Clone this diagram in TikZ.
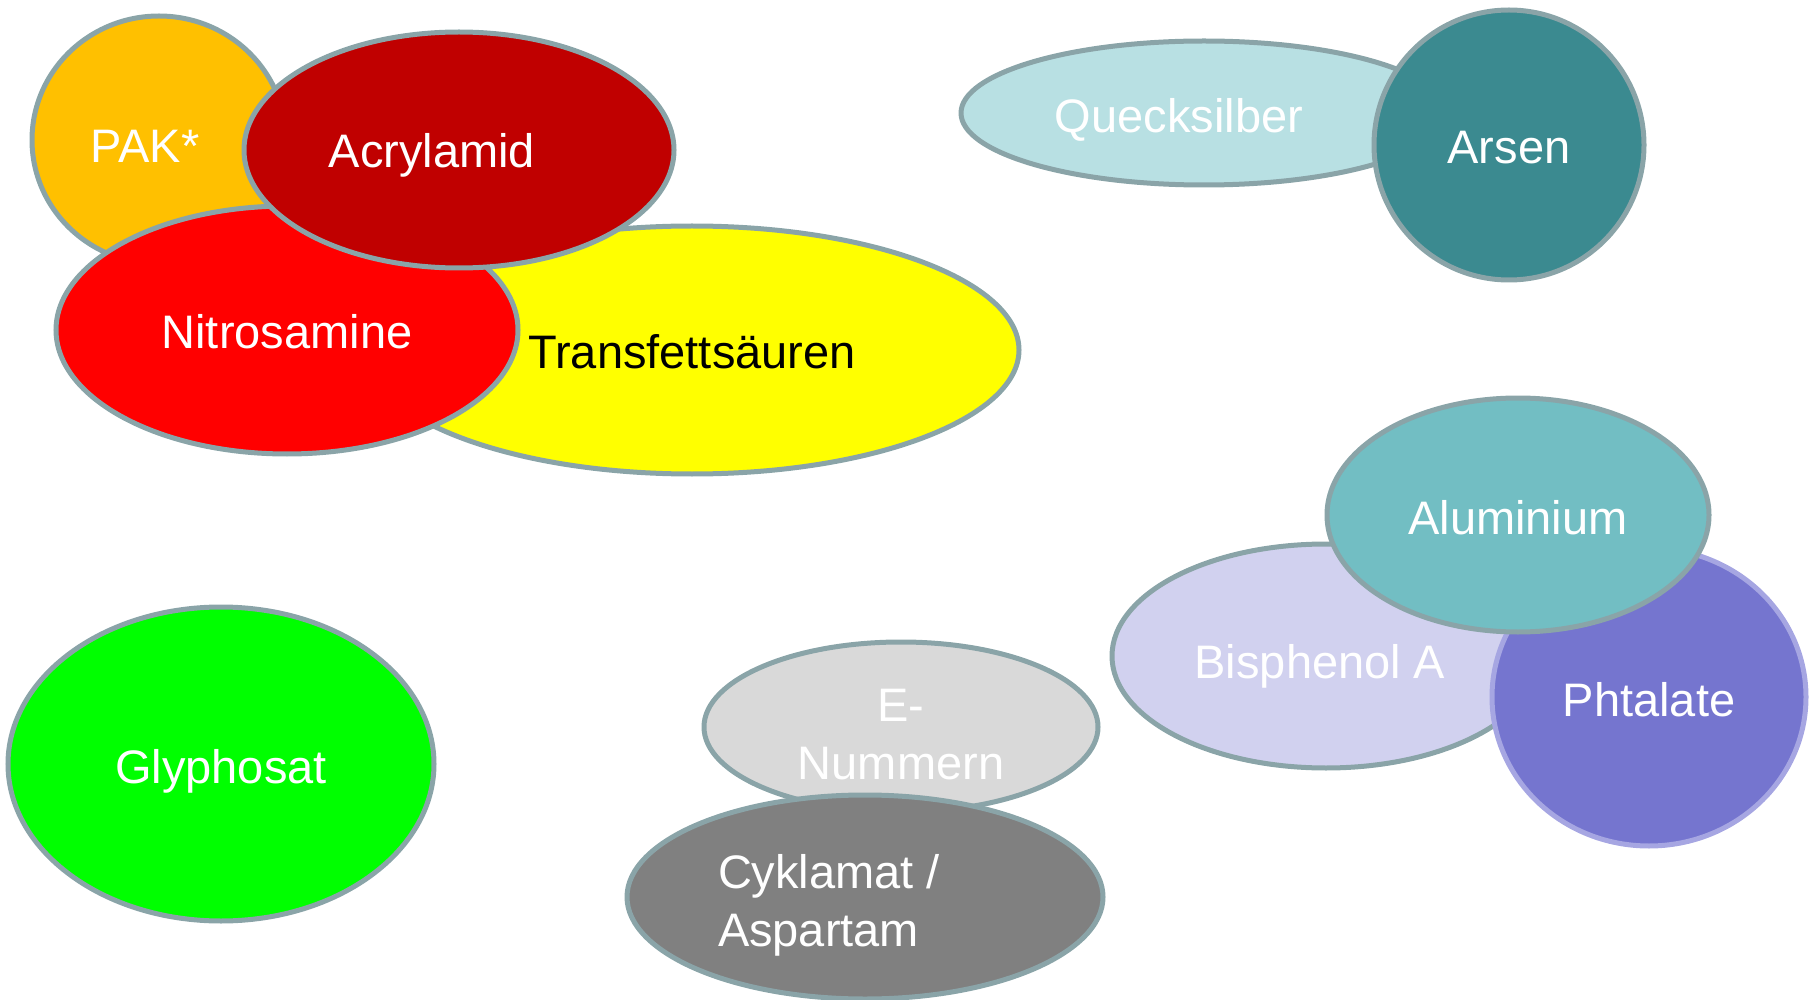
\documentclass[tikz,border=0pt]{standalone}
\usepackage{fontspec}
\setmainfont{Liberation Sans}
\usepackage{tikz}
\usetikzlibrary{shapes.geometric}

\definecolor{rim}{HTML}{8AA4A8}
\definecolor{rimlila}{HTML}{A6A6E2}
\definecolor{pakgelb}{HTML}{FFC000}
\definecolor{dunkelrot}{HTML}{C00000}
\definecolor{hellrot}{HTML}{FF0000}
\definecolor{gelb}{HTML}{FFFF00}
\definecolor{hellblau}{HTML}{B8E0E3}
\definecolor{petrol}{HTML}{3B8A90}
\definecolor{tuerkis}{HTML}{72BEC3}
\definecolor{flieder}{HTML}{D1D1EF}
\definecolor{lila}{HTML}{7575CF}
\definecolor{gruen}{HTML}{00FF00}
\definecolor{hellgrau}{HTML}{D9D9D9}
\definecolor{grau}{HTML}{808080}

\begin{document}
\begin{tikzpicture}[x=1pt, y=-1pt,
        blob/.style = {shape=ellipse, draw=rim, line width=5pt,
                       inner sep=0pt, text=white, align=center,
                       text height=44pt, text depth=6pt,
                       font=\fontsize{47}{58}\selectfont},
        txt/.style  = {text=white, align=left,
                       font=\fontsize{47}{58}\selectfont}]
    \useasboundingbox (0,0) rectangle (1816,1000);

    % oben links
    \node[blob, fill=pakgelb, minimum width=254pt, minimum height=248pt,
          label={[txt, xshift=-14pt, yshift=-6pt]center:PAK*}] (pak) at (159,140) {};
    \node[blob, fill=gelb, text=black, minimum width=654pt, minimum height=248pt]
          (trans) at (692,350) {Transfettsäuren};
    \node[blob, fill=hellrot, minimum width=462pt, minimum height=248pt]
          (nitro) at (287,330) {Nitrosamine};
    \node[blob, fill=dunkelrot, minimum width=430pt, minimum height=236pt,
          label={[txt, xshift=-27pt, yshift=-5pt]center:Acrylamid}] (acryl) at (459,150) {};

    % oben rechts
    \node[blob, fill=hellblau, minimum width=486pt, minimum height=144pt,
          label={[txt, xshift=-25pt, yshift=-7pt]center:Quecksilber}] (hg) at (1204,113) {};
    \node[blob, fill=petrol, minimum width=270pt, minimum height=270pt]
          (arsen) at (1509,145) {Arsen};

    % unten rechts
    \node[blob, fill=flieder, minimum width=428pt, minimum height=224pt,
          label={[txt, xshift=-6pt, yshift=-10pt]center:Bisphenol A}] (bpa) at (1326,656) {};
    \node[blob, fill=lila, draw=rimlila, minimum width=314pt, minimum height=298pt]
          (phtal) at (1649,697) {Phtalate};
    \node[blob, fill=tuerkis, minimum width=382pt, minimum height=234pt]
          (alu) at (1518,515) {Aluminium};

    % unten links und Mitte
    \node[blob, fill=gruen, minimum width=426pt, minimum height=314pt]
          (glypho) at (221,764) {Glyphosat};
    \node[blob, fill=hellgrau, minimum width=394pt, minimum height=170pt,
          label={[txt, align=center, yshift=-8pt]center:E-\\Nummern}] (enr) at (901,727) {};
    \node[blob, fill=grau, minimum width=476pt, minimum height=204pt,
          label={[txt, xshift=-36pt, yshift=-8pt]center:Cyklamat /\\Aspartam}] (cykl) at (865,897) {};
\end{tikzpicture}
\end{document}
